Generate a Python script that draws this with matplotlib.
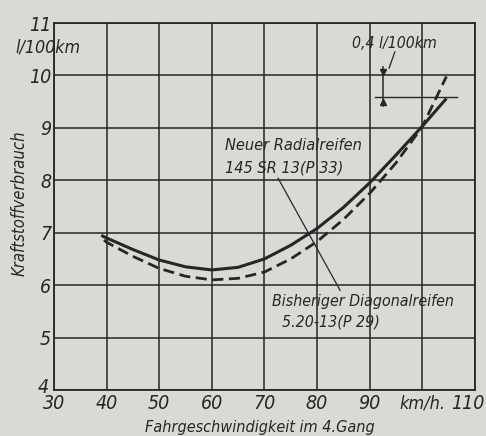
import matplotlib
matplotlib.use("Agg")
from matplotlib import pyplot as plt
from matplotlib.transforms import ScaledTranslation

# speed in km/h, consumption in l/100km
speed_radial = [39, 40, 45, 50, 55, 60, 65, 70, 75, 80, 85, 90, 95, 100, 104.6]
radial = [6.95, 6.90, 6.68, 6.48, 6.35, 6.29, 6.34, 6.50, 6.76, 7.08, 7.48, 7.95, 8.48, 9.03, 9.56]

speed_diag = [39.5, 40, 45, 50, 55, 60, 65, 70, 75, 80, 85, 90, 95, 100, 104.6]
diagonal = [6.86, 6.82, 6.55, 6.32, 6.17, 6.10, 6.13, 6.25, 6.50, 6.83, 7.25, 7.75, 8.33, 9.02, 9.98]

xticks = [30, 40, 50, 60, 70, 80, 90, 100, 110]
xlabels = ["30", "40", "50", "60", "70", "80", "90", "km/h.", "110"]
yticks = [4, 5, 6, 7, 8, 9, 10, 11]

plt.rcParams["font.family"] = ["DejaVu Sans"]
plt.rcParams["font.style"] = "italic"
plt.rcParams["font.stretch"] = "condensed"

paper = "#d9d9d6"
ink = "#262626"

fig = plt.figure(figsize=(4.86, 4.36), dpi=100, facecolor=paper)
ax = fig.add_axes([0.111, 0.1055, 0.866, 0.8417], facecolor=paper)

ax.plot(speed_radial, radial, color=ink, lw=2.2, solid_capstyle="butt")
ax.plot(speed_diag, diagonal, color=ink, lw=2.0, dashes=(4.0, 2.0))

ax.set_xlim(30, 110)
ax.set_ylim(4, 11)
ax.set_xticks(xticks)
ax.set_xticklabels(xlabels)
ax.set_yticks(yticks)
ax.grid(True, color=ink, lw=1.1)
ax.set_axisbelow(True)
for s in ax.spines.values():
    s.set_color(ink)
    s.set_linewidth(1.3)
ax.tick_params(length=0, labelsize=14, colors=ink)
ax.tick_params(axis="y", pad=2)
ax.tick_params(axis="x", pad=3)

# km/h. is written a little smaller than the numbers
ax.get_xticklabels()[7].set_fontsize(13)
# 110 pulled in so it stays on the sheet
lab110 = ax.get_xticklabels()[8]
lab110.set_transform(lab110.get_transform() + ScaledTranslation(-7 / 100, 0, fig.dpi_scale_trans))
# the 4 sits a bit higher, above the 30
lab4 = ax.get_yticklabels()[0]
lab4.set_transform(lab4.get_transform() + ScaledTranslation(-2 / 100, 5 / 100, fig.dpi_scale_trans))

# labels on the curves
ax.text(62.5, 8.67, "Neuer Radialreifen", fontsize=11.7, color=ink, va="center")
ax.text(62.5, 8.23, "145 SR 13(P 33)", fontsize=11.7, color=ink, va="center")
ax.text(71.4, 5.68, "Bisheriger Diagonalreifen", fontsize=11.4, color=ink, va="center")
ax.text(73.3, 5.30, "5.20-13(P 29)", fontsize=11.4, color=ink, va="center")
ax.plot([72.6, 84.4], [8.04, 5.90], color=ink, lw=0.9)

# 0,4 l/100km difference mark
ax.text(94.8, 10.61, "0,4 l/100km", fontsize=11.3, color=ink, ha="center", va="center")
ax.plot([94.8, 93.7], [10.45, 10.14], color=ink, lw=0.9)
ax.plot([91.0, 106.6], [9.58, 9.58], color=ink, lw=1.0)
ax.plot([92.6, 92.6], [10.16, 9.42], color=ink, lw=1.1)
ax.plot([92.6], [10.07], marker="v", ms=5, color=ink)
ax.plot([92.6], [9.49], marker="^", ms=5, color=ink)

fig.text(15 / 486, 1 - 48 / 436, "l/100km", fontsize=12.8, color=ink, va="center", ha="left")
fig.text(20 / 486, 1 - 203 / 436, "Kraftstoffverbrauch", fontsize=12, color=ink,
         rotation=90, ha="center", va="center")
fig.text(260 / 486, 1 - 427 / 436, "Fahrgeschwindigkeit im 4.Gang", fontsize=11.6,
         color=ink, ha="center", va="center")

plt.savefig("out.png", dpi=100, facecolor=paper)
